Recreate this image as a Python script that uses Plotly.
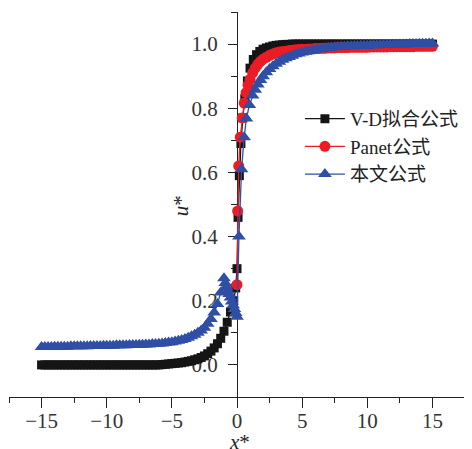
import plotly.graph_objects as go

# ---- data ----
vd_x = [-15, -14.75, -14.5, -14.25, -14, -13.75, -13.5, -13.25, -13, -12.75, -12.5, -12.25, -12, -11.75, -11.5,
        -11.25, -11, -10.75, -10.5, -10.25, -10, -9.75, -9.5, -9.25, -9, -8.75, -8.5, -8.25, -8, -7.75, -7.5,
        -7.25, -7, -6.75, -6.5, -6.25, -6,
        -5.75, -5.5, -5.25, -5, -4.75, -4.5, -4.25, -4, -3.75, -3.5, -3.25, -3, -2.75, -2.5, -2.25, -2, -1.75,
        -1.5, -1.25, -1, -0.75, -0.5, -0.25,
        -0.1, 0, 0.08, 0.18, 0.3, 0.45, 0.6, 0.8, 1, 1.25, 1.5, 1.75, 2, 2.25, 2.5, 2.75, 3, 3.25, 3.5, 3.75, 4,
        4.25, 4.5, 4.75, 5, 5.25, 5.5, 5.75, 6, 6.25, 6.5, 6.75, 7, 7.25, 7.5, 7.75, 8, 8.25, 8.5, 8.75, 9,
        9.25, 9.5, 9.75, 10, 10.25, 10.5, 10.75, 11, 11.25, 11.5, 11.75, 12, 12.25, 12.5, 12.75, 13, 13.25,
        13.5, 13.75, 14, 14.25, 14.5, 14.75, 15]
vd_y = [0.0, 0.0, 0.0, 0.0, 0.0, 0.0, 0.0, 0.0, 0.0, 0.0, 0.0, 0.0, 0.0, 0.0, 0.0,
        0.0, 0.0, 0.0, 0.0, 0.0, 0.0, 0.0, 0.0, 0.0, 0.0, 0.0, 0.0, 0.0, 0.0, 0.0, 0.0,
        0.0, 0.0, 0.0, 0.0, 0.0, 0.0,
        0.001, 0.002, 0.003, 0.004, 0.005, 0.006, 0.007, 0.009, 0.011, 0.013, 0.016, 0.019, 0.023, 0.028, 0.035,
        0.043, 0.053, 0.066, 0.083, 0.105, 0.133, 0.165, 0.2,
        0.24, 0.30, 0.46, 0.59, 0.69, 0.77, 0.83, 0.885, 0.925, 0.952, 0.967, 0.977, 0.984, 0.988, 0.991, 0.994,
        0.996, 0.997, 0.998, 0.999, 0.999,
        1.0, 1.0, 1.0, 1.0, 1.0, 1.0, 1.0, 1.0, 1.0, 1.0, 1.0, 1.0, 1.0, 1.0, 1.0, 1.0, 1.0, 1.0, 1.0, 1.0,
        1.0, 1.0, 1.0, 1.0, 1.0, 1.0, 1.0, 1.0, 1.0, 1.0, 1.0, 1.0, 1.0, 1.0, 1.0, 1.0, 1.0,
        1.0, 1.0, 1.0, 1.0, 1.0, 1.0, 1.0]

panet_x = [0, 0.05, 0.13, 0.25, 0.4, 0.55, 0.7, 0.85, 1, 1.2, 1.4, 1.6, 1.8, 2, 2.25, 2.5, 2.75, 3,
           3.25, 3.5, 3.75, 4, 4.25, 4.5, 4.75, 5, 5.25, 5.5, 5.75, 6, 6.25, 6.5, 6.75, 7, 7.25, 7.5, 7.75, 8,
           8.25, 8.5, 8.75, 9, 9.25, 9.5, 9.75, 10, 10.25, 10.5, 10.75, 11, 11.25, 11.5, 11.75, 12, 12.25,
           12.5, 12.75, 13, 13.25, 13.5, 13.75, 14, 14.25, 14.5, 14.75, 15]
panet_y = [0.25, 0.48, 0.62, 0.71, 0.77, 0.816, 0.849, 0.872, 0.89, 0.91, 0.925, 0.937, 0.946, 0.953, 0.959,
           0.965, 0.969, 0.973,
           0.975, 0.977, 0.978, 0.98, 0.981, 0.982, 0.983, 0.984, 0.984, 0.985, 0.985, 0.986, 0.986, 0.987,
           0.987, 0.988, 0.988, 0.988, 0.989, 0.989, 0.989, 0.989, 0.99, 0.99, 0.99, 0.99, 0.99, 0.99, 0.991,
           0.991, 0.991, 0.991, 0.991, 0.991, 0.992, 0.992, 0.992, 0.992, 0.992, 0.992, 0.992, 0.992, 0.993,
           0.993, 0.993, 0.993, 0.993, 0.993]

ours_x = [-15, -14.75, -14.5, -14.25, -14, -13.75, -13.5, -13.25, -13, -12.75, -12.5, -12.25, -12, -11.75, -11.5,
          -11.25, -11, -10.75, -10.5, -10.25, -10, -9.75, -9.5, -9.25, -9, -8.75, -8.5, -8.25, -8, -7.75, -7.5,
          -7.25, -7, -6.75, -6.5, -6.25, -6,
          -5.75, -5.5, -5.25, -5, -4.75, -4.5, -4.25, -4, -3.75, -3.5, -3.25, -3, -2.75, -2.5, -2.25, -2, -1.75,
          -1.5, -1.25, -1,
          -0.9, -0.8, -0.7, -0.6, -0.5, -0.4, -0.3, -0.2, -0.1, 0,
          0.15, 0.35, 0.55, 0.72, 0.95, 1.2, 1.4, 1.6, 1.8, 2, 2.25, 2.5, 2.75, 3, 3.25, 3.5, 3.75, 4, 4.25, 4.5,
          4.75, 5, 5.25, 5.5, 5.75, 6, 6.25, 6.5, 6.75, 7, 7.25, 7.5, 7.75, 8,
          8.25, 8.5, 8.75, 9, 9.25, 9.5, 9.75, 10, 10.25, 10.5, 10.75, 11, 11.25, 11.5, 11.75, 12, 12.25, 12.5,
          12.75, 13, 13.25, 13.5, 13.75, 14, 14.25, 14.5, 14.75, 15]
ours_y = [0.056, 0.056, 0.056, 0.056, 0.057, 0.057, 0.057, 0.057, 0.057, 0.058, 0.058, 0.058, 0.058, 0.058, 0.058,
          0.059, 0.059, 0.059, 0.059, 0.06, 0.06, 0.06, 0.06, 0.061, 0.061, 0.061, 0.061, 0.062, 0.062, 0.062, 0.063,
          0.063, 0.064, 0.064, 0.065, 0.065, 0.066,
          0.067, 0.068, 0.07, 0.071, 0.073, 0.075, 0.078, 0.081, 0.085, 0.089, 0.094, 0.1, 0.107, 0.116, 0.128,
          0.143, 0.163, 0.19, 0.226, 0.27,
          0.255, 0.243, 0.232, 0.221, 0.21, 0.198, 0.186, 0.174, 0.162, 0.15,
          0.40, 0.61, 0.71, 0.768, 0.81, 0.84, 0.858, 0.874, 0.888, 0.9, 0.912, 0.922, 0.931, 0.939, 0.945, 0.951,
          0.956, 0.96, 0.964, 0.968, 0.971, 0.974, 0.976, 0.978, 0.98, 0.982, 0.984, 0.985, 0.987, 0.988, 0.989,
          0.99, 0.991, 0.992,
          0.992, 0.993, 0.993, 0.994, 0.994, 0.995, 0.995, 0.995, 0.996, 0.996, 0.996, 0.997, 0.997, 0.997, 0.998,
          0.998, 0.998, 0.999, 0.999, 0.999, 1.0, 1.0, 1.0, 1.001, 1.001, 1.001, 1.002, 1.002]

assert len(vd_x) == len(vd_y) and len(panet_x) == len(panet_y) and len(ours_x) == len(ours_y)

series_names = ["V-D拟合公式", "Panet公式", "本文公式"]
x_ticks = [-15, -10, -5, 0, 5, 10, 15]
y_ticks = [0.0, 0.2, 0.4, 0.6, 0.8, 1.0]

BLACK = "#151515"
RED = "#ec1c24"
BLUE = "#2f4ea6"
SERIF = "Liberation Serif"
SERIF_CJK = "Liberation Serif, Noto Sans CJK SC"
AX = "#222222"

fig = go.Figure()
fig.add_trace(go.Scatter(x=vd_x, y=vd_y, name=series_names[0], mode="lines+markers",
                         line=dict(color=BLACK, width=1.3),
                         marker=dict(symbol="square", size=9, color=BLACK)))
fig.add_trace(go.Scatter(x=panet_x, y=panet_y, name=series_names[1], mode="lines+markers",
                         line=dict(color=RED, width=1.3),
                         marker=dict(symbol="circle", size=11, color=RED)))
fig.add_trace(go.Scatter(x=ours_x, y=ours_y, name=series_names[2], mode="lines+markers",
                         line=dict(color=BLUE, width=1.3),
                         marker=dict(symbol="triangle-up", size=12, color=BLUE)))

fig.update_layout(
    width=464, height=441,
    margin=dict(l=1, r=7, t=4, b=52, autoexpand=False),
    paper_bgcolor="white", plot_bgcolor="white",
    font=dict(family=SERIF_CJK, color="#222"),
    xaxis=dict(range=[-17.5, 17.5], showgrid=False, zeroline=False,
               showline=True, linecolor=AX, linewidth=1,
               ticks="outside", ticklen=10, tickwidth=1, tickcolor=AX,
               tickmode="array", tickvals=x_ticks, ticklabelstandoff=-5,
               minor=dict(dtick=2.5, tick0=0, ticks="outside", ticklen=5, tickcolor=AX, showgrid=False),
               tickfont=dict(family=SERIF, size=21, color="#333"), automargin=False),
    yaxis=dict(range=[-0.1, 1.1], anchor="free", position=0.5,
               showgrid=False, zeroline=False,
               showline=True, linecolor=AX, linewidth=1,
               ticks="outside", ticklen=9, tickwidth=1, tickcolor=AX,
               tickmode="array", tickvals=y_ticks, ticktext=[f"{v:.1f}" for v in y_ticks],
               ticklabelstandoff=6,
               minor=dict(dtick=0.1, tick0=0, ticks="outside", ticklen=6, tickcolor=AX, showgrid=False),
               tickfont=dict(family=SERIF, size=21, color="#333"),
               layer="below traces", automargin=False),
    legend=dict(x=0.638, y=0.772, xanchor="left", yanchor="top", itemwidth=40,
                bgcolor="rgba(0,0,0,0)", font=dict(family=SERIF_CJK, size=19, color="#222"),
                tracegroupgap=0),
    annotations=[
        dict(text="<i>u</i>*", xref="paper", yref="paper", x=0.377, y=0.498,
             showarrow=False, textangle=-90, font=dict(family=SERIF, size=21, color="#222"),
             xanchor="center", yanchor="middle"),
        dict(text="<i>x</i>*", xref="paper", yref="paper", x=0.506, y=-0.117,
             showarrow=False, font=dict(family=SERIF, size=21, color="#222"),
             xanchor="center", yanchor="middle"),
    ],
)

fig.write_html("out.html")
